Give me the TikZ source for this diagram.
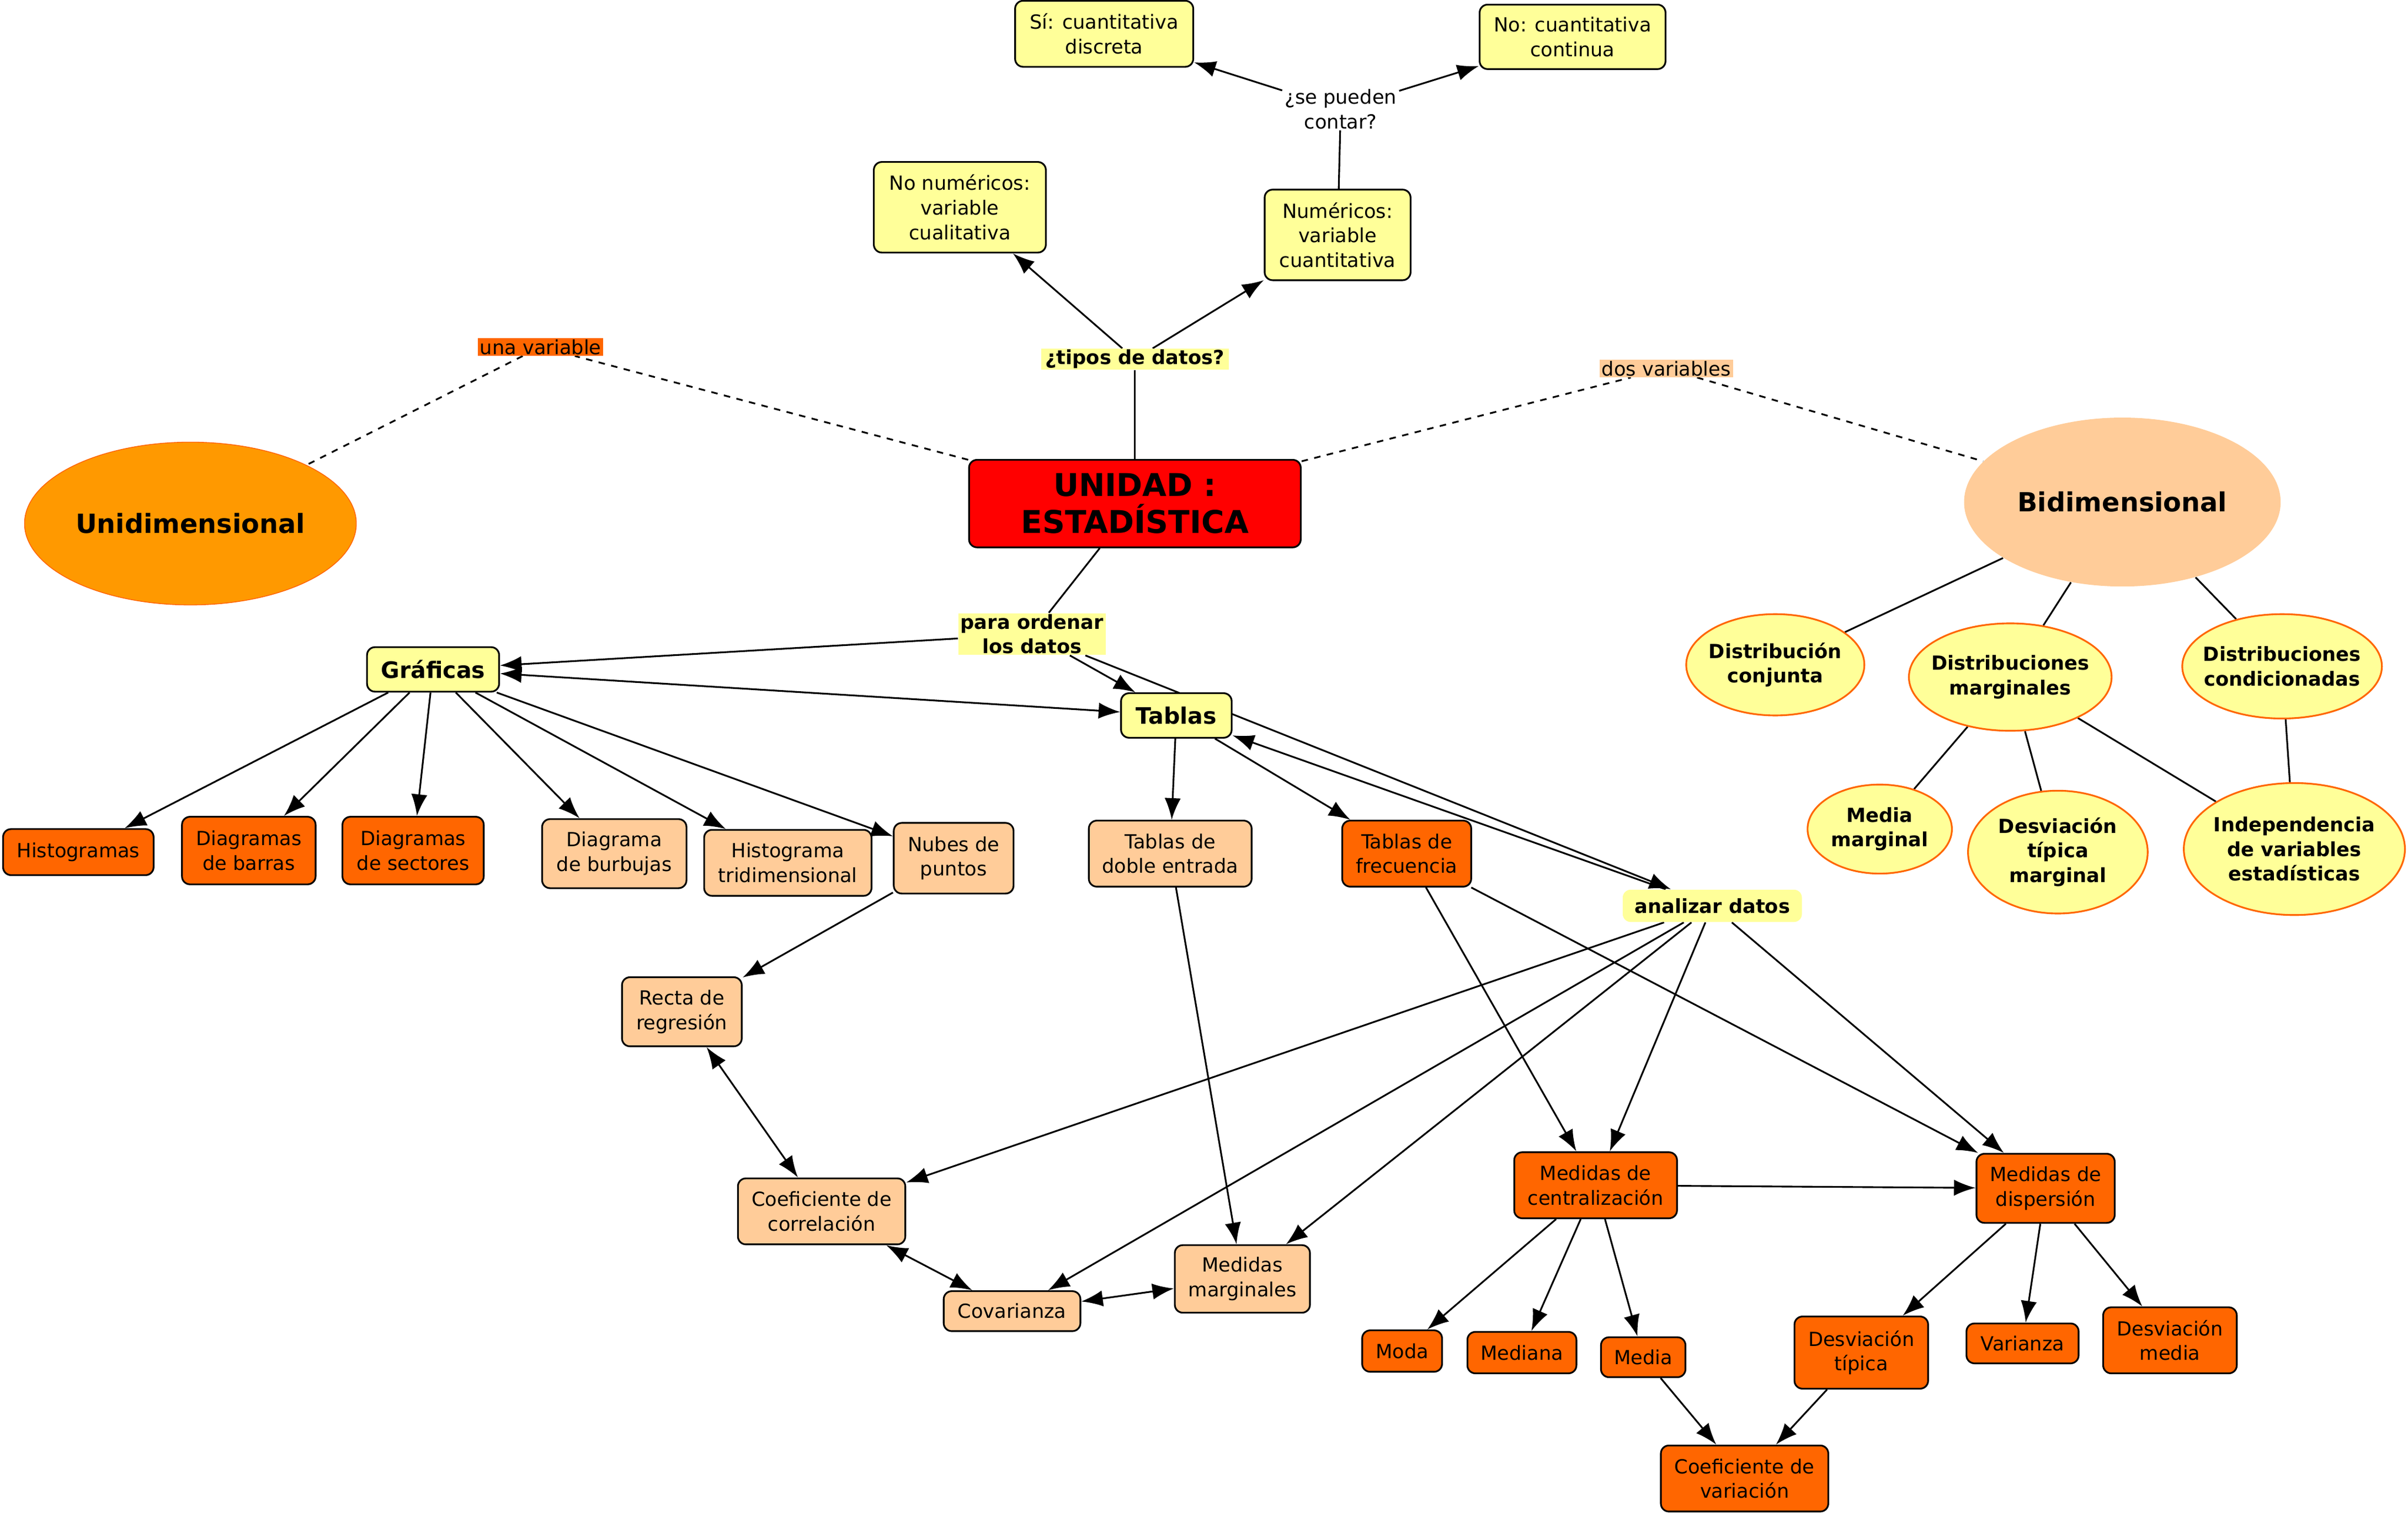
\documentclass[tikz,border=0pt]{standalone}
\usepackage{fontspec}
\setmainfont{DejaVu Sans}
\usetikzlibrary{arrows.meta,shapes.geometric,backgrounds}
\definecolor{cmyellow}{HTML}{FFFF99}
\definecolor{cmorange}{HTML}{FF6600}
\definecolor{cmpeach}{HTML}{FFCC99}
\definecolor{cmamber}{HTML}{FF9900}
\newcommand{\cmfont}{\fontsize{9}{11.4}\selectfont}
\tikzset{font=\cmfont}
\tikzset{
  box/.style={draw, line width=0.8pt, rounded corners=0.13cm, align=center, inner sep=2pt},
  yel/.style={box, fill=cmyellow, font=\fontsize{10.5}{12.5}\selectfont\bfseries},
  dark/.style={box, fill=cmorange},
  light/.style={box, fill=cmpeach},
  sz/.style 2 args={minimum width=#1*0.025cm, minimum height=#2*0.025cm},
  blob/.style={ellipse, draw=cmorange, line width=0.8pt, fill=cmyellow, align=center,
    inner xsep=-6pt, inner ysep=0pt, font=\cmfont\bfseries},
  phrase/.style={align=center, inner xsep=1pt, inner ysep=0.5pt},
  arr/.style={line width=0.8pt, -{Latex[length=10pt,width=7.5pt]}},
  twoway/.style={line width=0.8pt, {Latex[length=10pt,width=7.5pt]}-{Latex[length=10pt,width=7.5pt]}},
  plainlink/.style={line width=0.8pt},
  dashlink/.style={line width=0.8pt, dash pattern=on 3pt off 3pt}
}
\begin{document}
\begin{tikzpicture}[x=0.025cm, y=-0.025cm]
  \useasboundingbox (0,0) rectangle (1568,988);

  % centro y tipos de datos
  \node[box, fill=red, sz={216}{57}, font=\fontsize{14.5}{17}\selectfont\bfseries] (unidad) at (739,328) {UNIDAD :\\ESTADÍSTICA};
  \node[phrase, fill=cmyellow, inner xsep=2pt, font=\cmfont\bfseries] (tipos) at (739,234) {¿tipos de datos?};
  \node[box, fill=cmyellow, sz={112}{59}] (nonum) at (625,135) {No numéricos:\\variable\\cualitativa};
  \node[box, fill=cmyellow, sz={95}{59}] (num) at (871,153) {Numéricos:\\variable\\cuantitativa};
  \node[phrase, fill=white] (contar) at (873,71) {¿se pueden\\contar?};
  \node[box, fill=cmyellow, sz={116}{43}] (si) at (719,22) {Sí: cuantitativa\\discreta};
  \node[box, fill=cmyellow, sz={121}{42}] (nocont) at (1024,24) {No: cuantitativa\\continua};

  % una o dos variables
  \node[phrase, fill=cmorange] (unavar) at (352,226) {una variable};
  \node[ellipse, fill=cmamber, draw=cmorange, inner xsep=-10pt, sz={216}{106}, font=\fontsize{12.2}{14}\selectfont\bfseries] (unidim) at (124,341) {Unidimensional};
  \node[phrase, fill=cmpeach] (dosvar) at (1085,240) {dos variables};
  \node[ellipse, fill=cmpeach, sz={204}{110}, font=\fontsize{12.2}{14}\selectfont\bfseries] (bidim) at (1382,327) {Bidimensional};

  % bidimensional
  \node[blob, sz={116}{66}] (conj) at (1156,433) {Distribución\\conjunta};
  \node[blob, sz={132}{70}] (marg) at (1309,441) {Distribuciones\\marginales};
  \node[blob, sz={130}{68}] (cond) at (1486,434) {Distribuciones\\condicionadas};
  \node[blob, sz={94}{58}] (medmg) at (1224,540) {Media\\marginal};
  \node[blob, sz={117}{80}] (desvmg) at (1340,555) {Desviación\\típica\\marginal};
  \node[blob, sz={144}{86}] (indep) at (1494,553) {Independencia\\de variables\\estadísticas};

  % ordenar los datos
  \node[phrase, fill=cmyellow, font=\cmfont\bfseries] (ordenar) at (672,413) {para ordenar\\los datos};
  \node[yel, sz={86}{29}] (graf) at (282,436) {Gráficas};
  \node[yel, sz={72}{29}] (tablas) at (766,466) {Tablas};
  \node[dark, sz={98}{30}] (hist) at (51,555) {Histogramas};
  \node[dark, sz={87}{44}] (barras) at (162,554) {Diagramas\\de barras};
  \node[dark, sz={92}{44}] (sect) at (269,554) {Diagramas\\de sectores};
  \node[light, sz={94}{45}] (burb) at (400,556) {Diagrama\\de burbujas};
  \node[light, sz={109}{43}] (tridim) at (513,562) {Histograma\\tridimensional};
  \node[light, sz={78}{46}] (nubes) at (621,559) {Nubes de\\puntos};
  \node[light, sz={106}{43}] (doble) at (762,556) {Tablas de\\doble entrada};
  \node[dark, sz={84}{43}] (frec) at (916,556) {Tablas de\\frecuencia};

  % analizar los datos
  \node[fill=cmyellow, rounded corners=0.13cm, inner xsep=5.5pt, inner ysep=4pt, font=\cmfont\bfseries] (analizar) at (1115,590) {analizar datos};
  \node[light, sz={78}{45}] (recta) at (444,659) {Recta de\\regresión};
  \node[light, sz={109}{43}] (coef) at (535,789) {Coeficiente de\\correlación};
  \node[light, sz={89}{26}] (cov) at (659,854) {Covarianza};
  \node[light, sz={88}{44}] (medidasm) at (809,833) {Medidas\\marginales};
  \node[dark, sz={106}{43}] (cent) at (1039,772) {Medidas de\\centralización};
  \node[dark, sz={90}{45}] (disp) at (1332,774) {Medidas de\\dispersión};
  \node[dark, sz={52}{27}] (moda) at (913,880) {Moda};
  \node[dark, sz={71}{27}] (mediana) at (991,881) {Mediana};
  \node[dark, sz={55}{26}] (media) at (1070,884) {Media};
  \node[dark, sz={87}{47}] (desvt) at (1212,881) {Desviación\\típica};
  \node[dark, sz={73}{26}] (varianza) at (1317,875) {Varianza};
  \node[dark, sz={87}{43}] (desvm) at (1413,873) {Desviación\\media};
  \node[dark, sz={109}{43}] (coefvar) at (1136,963) {Coeficiente de\\variación};

  \begin{scope}[on background layer]
    \draw[plainlink] (unidad) -- (tipos);
    \draw[arr] (tipos) -- (nonum);
    \draw[arr] (tipos) -- (num);
    \draw[plainlink] (num) -- (contar);
    \draw[arr] (contar) -- (si);
    \draw[arr] (contar) -- (nocont);

    \draw[dashlink] (unidad) -- (unavar);
    \draw[dashlink] (unavar) -- (unidim);
    \draw[dashlink] (unidad) -- (dosvar);
    \draw[dashlink] (dosvar) -- (bidim);

    \draw[plainlink] (bidim) -- (conj);
    \draw[plainlink] (bidim) -- (marg);
    \draw[plainlink] (bidim) -- (cond);
    \draw[plainlink] (marg) -- (medmg);
    \draw[plainlink] (marg) -- (desvmg);
    \draw[plainlink] (marg) -- (indep);
    \draw[plainlink] (cond) -- (indep);

    \draw[plainlink] (unidad) -- (ordenar);
    \draw[arr] (ordenar) -- (graf);
    \draw[arr] (ordenar) -- (tablas);
    \draw[arr] (ordenar) -- (analizar);
    \draw[twoway] (graf) -- (tablas);
    \draw[arr] (analizar) -- (tablas);
    \foreach \n in {hist,barras,sect,burb,tridim,nubes}
      \draw[arr] (graf) -- (\n);
    \draw[arr] (tablas) -- (doble);
    \draw[arr] (tablas) -- (frec);

    \draw[arr] (nubes) -- (recta);
    \draw[twoway] (recta) -- (coef);
    \draw[twoway] (coef) -- (cov);
    \draw[twoway] (cov) -- (medidasm);
    \draw[arr] (doble) -- (medidasm);
    \foreach \n in {coef,cov,medidasm,cent,disp}
      \draw[arr] (analizar) -- (\n);
    \draw[arr] (frec) -- (cent);
    \draw[arr] (frec) -- (disp);
    \draw[arr] (cent) -- (disp);
    \foreach \n in {moda,mediana,media}
      \draw[arr] (cent) -- (\n);
    \foreach \n in {desvt,varianza,desvm}
      \draw[arr] (disp) -- (\n);
    \draw[arr] (media) -- (coefvar);
    \draw[arr] (desvt) -- (coefvar);
  \end{scope}
\end{tikzpicture}
\end{document}
